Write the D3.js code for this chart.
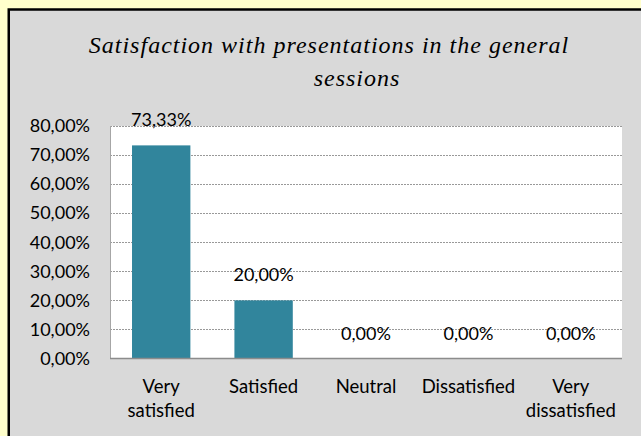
<!DOCTYPE html>
<html>
<head>
<meta charset="utf-8">
<script src="https://cdn.jsdelivr.net/npm/d3@7"></script>
<style>
  body { margin: 0; background: #ffffcc; }
  svg { display: block; }
</style>
</head>
<body>
<svg width="641" height="436"></svg>
<script>
// values
const categories = [['Very', 'satisfied'], ['Satisfied'], ['Neutral'], ['Dissatisfied'], ['Very', 'dissatisfied']];
const percentages = [73.33, 20.00, 0.00, 0.00, 0.00];
const yTicks = [0, 10, 20, 30, 40, 50, 60, 70, 80];
const titleLines = ['Satisfaction with presentations in the general', 'sessions'];

const fmt = (v) => v.toFixed(2).replace('.', ',') + '%';

const svg = d3.select('svg');

// chart box, cut off on the right and bottom like in the screenshot
svg.append('rect')
  .attr('x', 8.75).attr('y', 9.5)
  .attr('width', 700).attr('height', 500)
  .attr('fill', '#d9d9d9')
  .attr('stroke', '#000')
  .attr('stroke-width', 2.5);

const plot = {left: 110, right: 622, top: 126, bottom: 358.5};

const x = d3.scaleBand()
  .domain(d3.range(categories.length))
  .range([plot.left, plot.right])
  .paddingInner(0.43)
  .paddingOuter(0.215);

const y = d3.scaleLinear()
  .domain([0, 80])
  .range([plot.bottom, plot.top]);

svg.append('rect')
  .attr('x', plot.left).attr('y', plot.top)
  .attr('width', plot.right - plot.left)
  .attr('height', plot.bottom - plot.top)
  .attr('fill', '#fff');

// dotted gridlines
svg.append('g')
  .selectAll('line')
  .data(yTicks.filter((t) => t > 0))
  .join('line')
    .attr('x1', plot.left).attr('x2', plot.right)
    .attr('y1', (d) => Math.round(y(d)) + 0.5)
    .attr('y2', (d) => Math.round(y(d)) + 0.5)
    .attr('stroke', '#999')
    .attr('stroke-dasharray', '2,1');

// y axis labels (no tick marks)
const yAxis = d3.axisLeft(y)
  .tickValues(yTicks)
  .tickSize(0)
  .tickPadding(20)
  .tickFormat(fmt);

svg.append('g')
  .attr('transform', `translate(${plot.left},0)`)
  .call(yAxis)
  .call((g) => g.select('.domain').remove())
  .selectAll('text')
    .attr('font-family', 'Lato, sans-serif')
    .attr('font-size', 18)
    .attr('fill', '#000');

svg.append('g')
  .selectAll('rect')
  .data(percentages)
  .join('rect')
    .attr('x', (d, i) => x(i))
    .attr('y', (d) => y(d))
    .attr('width', x.bandwidth())
    .attr('height', (d) => y(0) - y(d))
    .attr('fill', '#31859c');

// axis lines
svg.append('line')
  .attr('x1', plot.left + 0.5).attr('x2', plot.left + 0.5)
  .attr('y1', plot.top).attr('y2', plot.bottom)
  .attr('stroke', '#a6a6a6');
svg.append('line')
  .attr('x1', plot.left).attr('x2', plot.right)
  .attr('y1', plot.bottom).attr('y2', plot.bottom)
  .attr('stroke', '#8c8c8c')
  .attr('stroke-width', 1.5);

// data labels
svg.append('g')
  .selectAll('text')
  .data(percentages)
  .join('text')
    .attr('x', (d, i) => x(i) + x.bandwidth() / 2)
    .attr('y', (d) => y(d) - 19)
    .attr('text-anchor', 'middle')
    .attr('font-family', 'Lato, sans-serif')
    .attr('font-size', 18)
    .text(fmt);

// category labels
svg.append('g')
  .selectAll('text')
  .data(categories)
  .join('text')
    .attr('x', (d, i) => x(i) + x.bandwidth() / 2)
    .attr('y', 393)
    .attr('text-anchor', 'middle')
    .attr('font-family', 'Lato, sans-serif')
    .attr('font-size', 18.5)
  .selectAll('tspan')
  .data((d) => d)
  .join('tspan')
    .attr('x', function () { return this.parentNode.getAttribute('x'); })
    .attr('dy', (d, i) => i === 0 ? 0 : 24)
    .text((d) => d);

// title
svg.append('g')
  .selectAll('text')
  .data(titleLines)
  .join('text')
    .attr('x', (d, i) => i === 0 ? 329 : 357)
    .attr('y', (d, i) => 53 + i * 33)
    .attr('text-anchor', 'middle')
    .attr('font-family', '"Liberation Serif", serif')
    .attr('font-style', 'italic')
    .attr('font-size', 24)
    .attr('letter-spacing', 1)
    .text((d) => d);
</script>
</body>
</html>
